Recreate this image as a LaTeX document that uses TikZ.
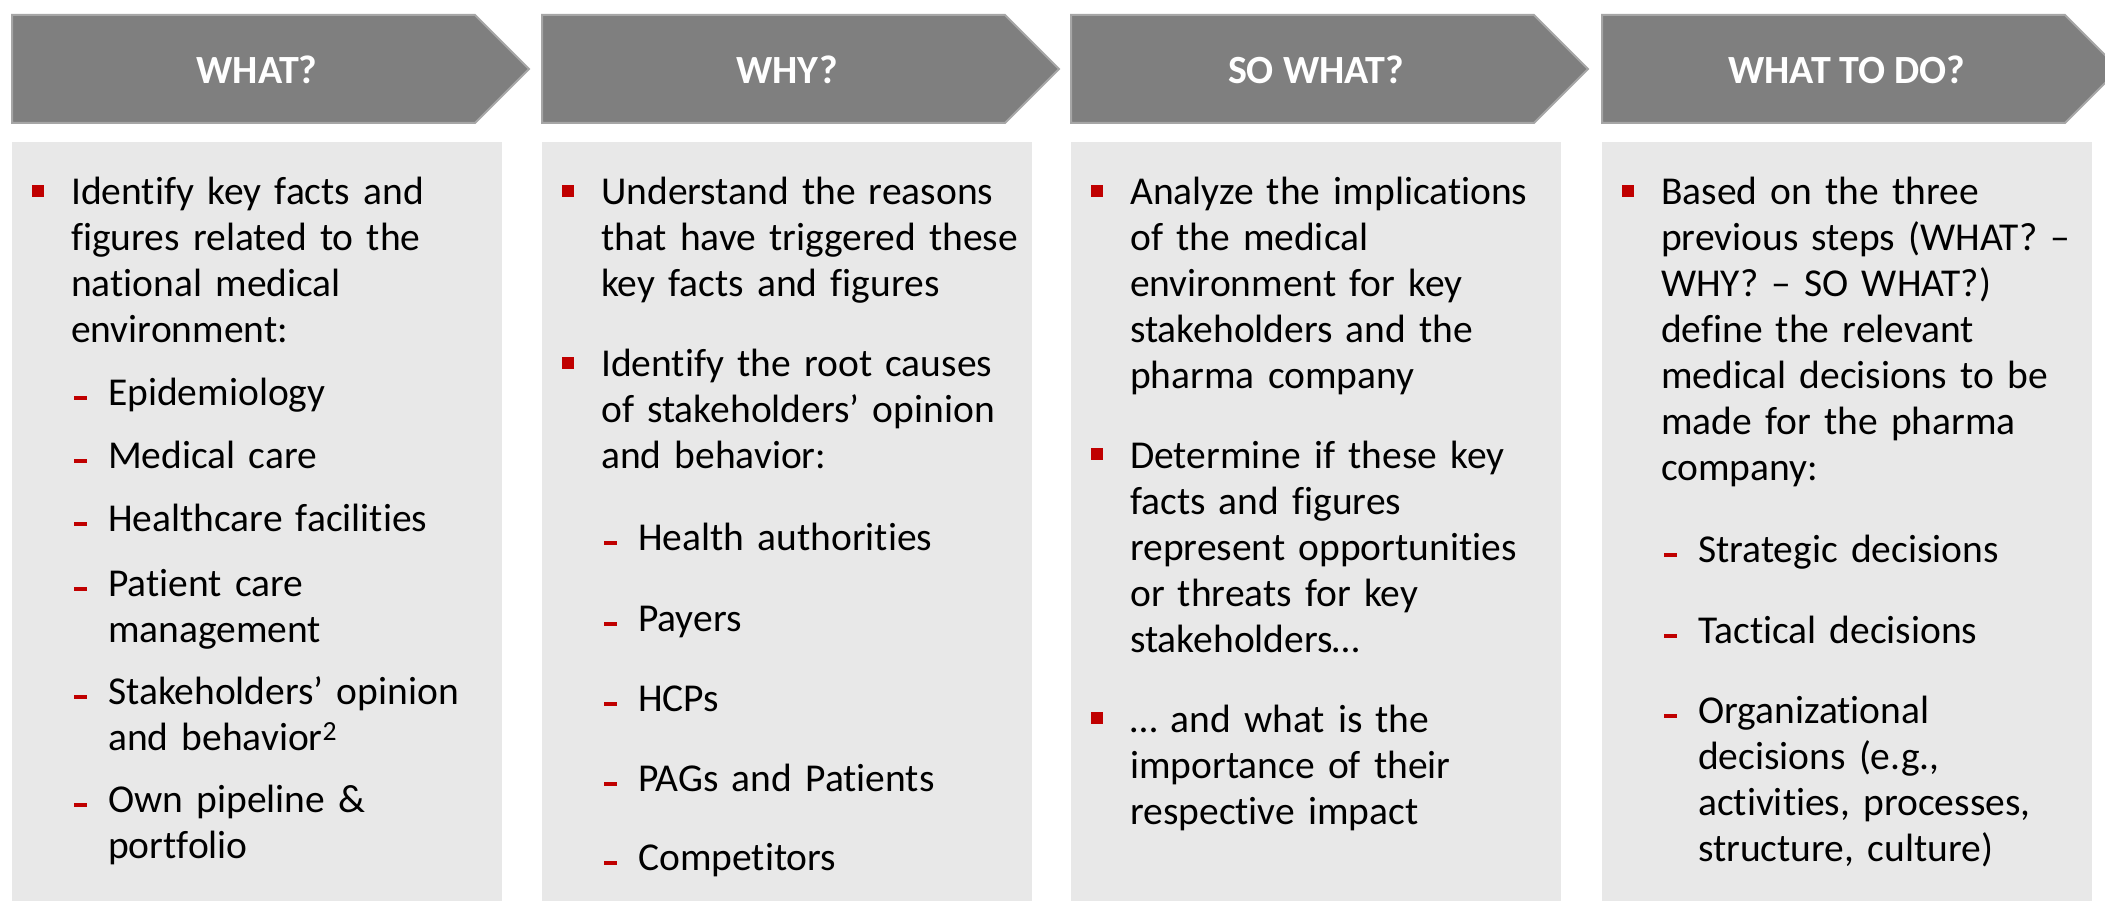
\documentclass[tikz,border=0pt]{standalone}
\usepackage{fontspec}
\setmainfont{Carlito}[Ligatures=NoCommon]
\definecolor{chevfill}{HTML}{7F7F7F}
\definecolor{chevline}{HTML}{A6A6A6}
\definecolor{boxfill}{HTML}{E8E8E8}
\definecolor{bred}{HTML}{C00000}
\newcommand\chevron[3]{%
  \draw[chev] (#1,15) -- ({#1+463},15) -- ({#1+517},69) -- ({#1+463},123) -- (#1,123) -- cycle;
  \fill[panel] (#1,142) rectangle ({#1+490},901);
  \node[headtext] (#2) at ({#1+245},70) {#3};}
\newcommand\bitem[4]{%
  \fill[bred] ({#2+20},{#3-20}) rectangle ({#2+32},{#3-8});
  \node[itemtext, anchor=base west] (#1) at ({#2+59},#3) {#4};}
\newcommand\ditem[4]{%
  \fill[bred] ({#2+62},{#3-9.5}) rectangle ({#2+75},{#3-5.5});
  \node[itemtext, anchor=base west] (#1) at ({#2+96},#3) {#4};}
\begin{document}
\begin{tikzpicture}[x=1pt,y=-1pt,
  chev/.style={fill=chevfill, draw=chevline, line width=2pt},
  panel/.style={fill=boxfill},
  headtext/.style={text=white, font=\fontsize{40}{48}\selectfont\bfseries, inner sep=0pt},
  itemtext/.style={text=black, font=\fontsize{39.5}{46}\selectfont, inner sep=0pt, text width=470pt, align=left}]
\useasboundingbox (0,0) rectangle (2105,901);
\fill[white] (0,0) rectangle (2105,901);
% column 1
\chevron{12}{h1}{WHAT?}
\bitem{a1}{12}{205}{Identify key facts and\\figures related to the\\national medical\\environment:}
\ditem{a2}{12}{405}{Epidemiology}
\ditem{a3}{12}{468}{Medical care}
\ditem{a4}{12}{531}{Healthcare facilities}
\ditem{a5}{12}{596}{Patient care\\management}
\ditem{a6}{12}{704}{Stakeholders’ opinion\\and behavior\textsuperscript{2}}
\ditem{a7}{12}{812}{Own pipeline \&\\portfolio}
% column 2
\chevron{542}{h2}{WHY?}
\bitem{b1}{542}{205}{Understand the reasons\\that have triggered these\\key facts and figures}
\bitem{b2}{542}{377}{Identify the root causes\\of stakeholders’ opinion\\and behavior:}
\ditem{b3}{542}{550}{Health authorities}
\ditem{b4}{542}{631}{Payers}
\ditem{b5}{542}{711}{HCPs}
\ditem{b6}{542}{791}{PAGs and Patients}
\ditem{b7}{542}{870}{Competitors}
% column 3
\chevron{1071}{h3}{SO WHAT?}
\bitem{c1}{1071}{205}{Analyze the implications\\of the medical\\environment for key\\stakeholders and the\\pharma company}
\bitem{c2}{1071}{468}{Determine if these key\\facts and figures\\represent opportunities\\or threats for key\\stakeholders…}
\bitem{c3}{1071}{732}{… and what is the\\importance of their\\respective impact}
% column 4
\chevron{1602}{h4}{WHAT TO DO?}
\bitem{d1}{1602}{205}{Based on the three\\previous steps (WHAT? –\\WHY? – SO WHAT?)\\define the relevant\\medical decisions to be\\made for the pharma\\company:}
\ditem{d2}{1602}{562}{Strategic decisions}
\ditem{d3}{1602}{643}{Tactical decisions}
\ditem{d4}{1602}{723}{Organizational\\decisions (e.g.,\\activities, processes,\\structure, culture)}
\end{tikzpicture}
\end{document}
